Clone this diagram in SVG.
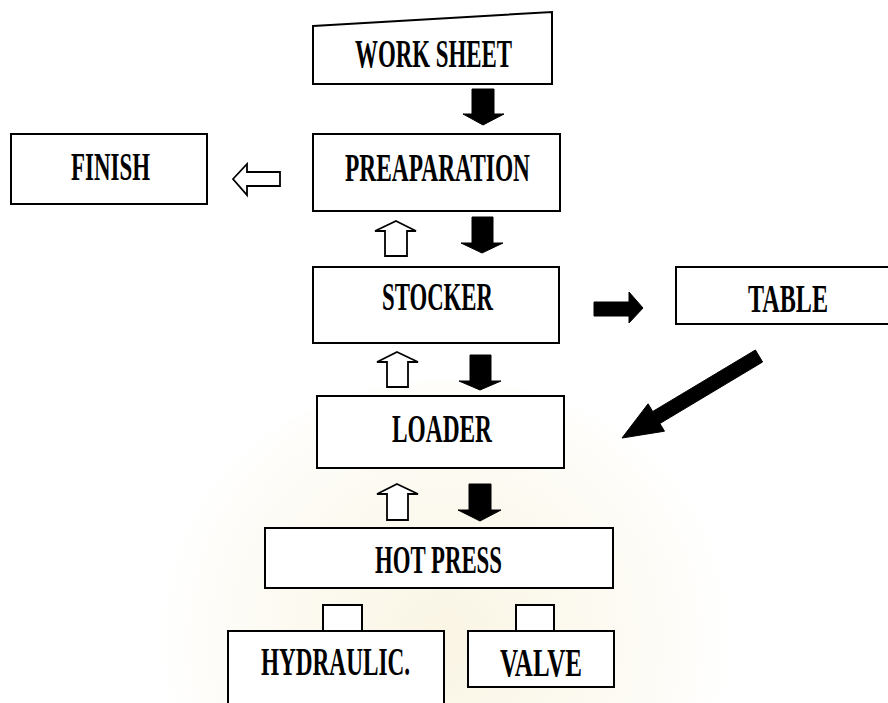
<svg xmlns="http://www.w3.org/2000/svg" width="888" height="703" viewBox="0 0 888 703">
<style>
.box{fill:#fff;stroke:#000;stroke-width:2}
.lbl{font-family:"Liberation Serif",serif;font-weight:bold;font-size:30px;fill:#000}
.solid{fill:#000;stroke:#000;stroke-width:1}
.hollow{fill:#fff;stroke:#000;stroke-width:1.8;stroke-linejoin:miter}
</style>
<defs>
<radialGradient id="wm" cx="445" cy="640" r="290" gradientUnits="userSpaceOnUse">
<stop offset="0" stop-color="#faf5e4"/>
<stop offset="0.6" stop-color="#fcfaf2"/>
<stop offset="1" stop-color="#ffffff"/>
</radialGradient>
</defs>
<rect width="888" height="703" fill="#fff"/>
<ellipse cx="445" cy="640" rx="290" ry="260" fill="url(#wm)"/>

<g id="worksheet">
<polygon class="box" points="313,26 552,12 552,84 313,84"/>
<text class="lbl" transform="translate(355,67) scale(1,1.33)" textLength="157" lengthAdjust="spacingAndGlyphs">WORK SHEET</text>
</g>
<g id="finish">
<rect class="box" x="11" y="134" width="196" height="70"/>
<text class="lbl" transform="translate(71,180) scale(1,1.33)" textLength="79" lengthAdjust="spacingAndGlyphs">FINISH</text>
</g>
<g id="preaparation">
<rect class="box" x="313" y="134" width="247" height="77"/>
<text class="lbl" transform="translate(345,181) scale(1,1.33)" textLength="185" lengthAdjust="spacingAndGlyphs">PREAPARATION</text>
</g>
<g id="stocker">
<rect class="box" x="313" y="267" width="246" height="76"/>
<text class="lbl" transform="translate(382,310) scale(1,1.33)" textLength="111" lengthAdjust="spacingAndGlyphs">STOCKER</text>
</g>
<g id="table">
<rect class="box" x="676" y="267" width="216" height="57"/>
<text class="lbl" transform="translate(748,312) scale(1,1.33)" textLength="80" lengthAdjust="spacingAndGlyphs">TABLE</text>
</g>
<g id="loader">
<rect class="box" x="317" y="396" width="247" height="72"/>
<text class="lbl" transform="translate(392,442) scale(1,1.33)" textLength="100" lengthAdjust="spacingAndGlyphs">LOADER</text>
</g>
<g id="hotpress">
<rect class="box" x="265" y="528" width="348" height="60"/>
<text class="lbl" transform="translate(375,573) scale(1,1.33)" textLength="127" lengthAdjust="spacingAndGlyphs">HOT PRESS</text>
</g>
<g id="hydraulic">
<rect class="box" x="323" y="605" width="39" height="26"/>
<rect class="box" x="228" y="631" width="216" height="80"/>
<text class="lbl" transform="translate(261,675) scale(1,1.33)" textLength="149" lengthAdjust="spacingAndGlyphs">HYDRAULIC.</text>
</g>
<g id="valve">
<rect class="box" x="516" y="605" width="38" height="26"/>
<rect class="box" x="468" y="631" width="146" height="56"/>
<text class="lbl" transform="translate(500,676) scale(1,1.33)" textLength="82" lengthAdjust="spacingAndGlyphs">VALVE</text>
</g>

<g id="connectors">
<polygon class="solid" points="472,89 494,89 494,114 504,114 483,125 463,114 472,114"/>
<polygon class="solid" points="472,217 493,217 493,243 503,243 482,253 461,243 472,243"/>
<polygon class="solid" points="470,355 491,355 491,381 501,381 480,390 459,381 470,381"/>
<polygon class="solid" points="469,484 491,484 491,510 501,510 480,521 458,510 469,510"/>
<polygon class="hollow" points="396,221 416,231 407,231 407,256 385,256 385,231 375,231"/>
<polygon class="hollow" points="397,352 418,362 408,362 408,387 387,387 387,362 377,362"/>
<polygon class="hollow" points="397,484 418,494 408,494 408,520 387,520 387,494 377,494"/>
<polygon class="hollow" points="233,179 247,164 247,172 280,172 280,186 247,186 247,195"/>
<polygon class="solid" points="594,302 629,302 629,292 643,308 629,323 629,316 594,316"/>
<polygon class="solid" points="755.4,350 762.6,362 659.9,423.5 664.5,431.2 622,438 648.1,403.8 652.7,411.5"/>
</g>
</svg>
